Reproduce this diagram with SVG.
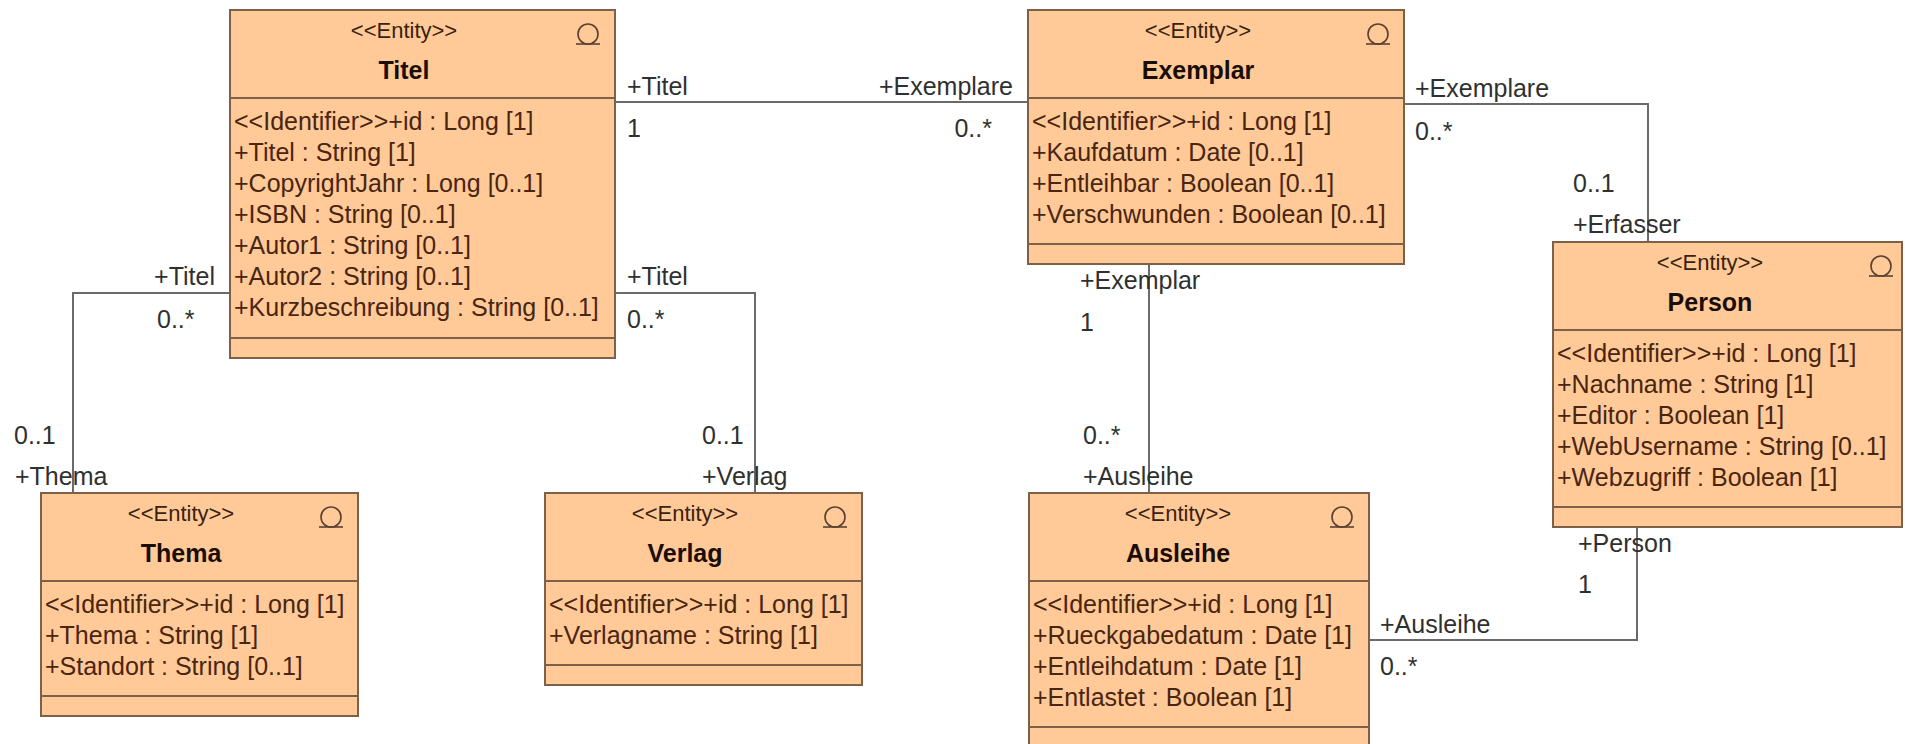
<svg xmlns="http://www.w3.org/2000/svg" width="1905" height="744" viewBox="0 0 1905 744">
<style>
.box{fill:#FFCA98;stroke:#7d6048;stroke-width:2}
.div{stroke:#7d6048;stroke-width:2}
.st{font-family:"Liberation Sans",Arial,sans-serif;font-size:22px;fill:#3a2210;text-anchor:middle}
.nm{font-family:"Liberation Sans",Arial,sans-serif;font-size:25px;font-weight:bold;fill:#1a0d05;text-anchor:middle}
.at{font-family:"Liberation Sans",Arial,sans-serif;font-size:25px;fill:#4a2510}
.ic{fill:none;stroke:#5a4030;stroke-width:1.6}
.cn{fill:none;stroke:#6a6a6a;stroke-width:2}
.lb{font-family:"Liberation Sans",Arial,sans-serif;font-size:25px;fill:#303030}
.end{text-anchor:end}
</style>
<rect width="1905" height="744" fill="#ffffff"/>

<g id="connectors">
<polyline class="cn" points="615,102 1028,102"/>
<polyline class="cn" points="230,293 73,293 73,493"/>
<polyline class="cn" points="615,293 755,293 755,493"/>
<polyline class="cn" points="1404,104 1648,104 1648,242"/>
<polyline class="cn" points="1149,264 1149,493"/>
<polyline class="cn" points="1637,527 1637,640 1369,640"/>
<text class="lb" x="627" y="95">+Titel</text>
<text class="lb" x="627" y="137">1</text>
<text class="lb end" x="1013" y="95">+Exemplare</text>
<text class="lb end" x="992" y="137">0..*</text>
<text class="lb end" x="215" y="285">+Titel</text>
<text class="lb" x="157" y="328">0..*</text>
<text class="lb" x="14" y="444">0..1</text>
<text class="lb" x="15" y="485">+Thema</text>
<text class="lb" x="627" y="285">+Titel</text>
<text class="lb" x="627" y="328">0..*</text>
<text class="lb" x="702" y="444">0..1</text>
<text class="lb" x="702" y="485">+Verlag</text>
<text class="lb" x="1415" y="97">+Exemplare</text>
<text class="lb" x="1415" y="140">0..*</text>
<text class="lb" x="1573" y="192">0..1</text>
<text class="lb" x="1573" y="233">+Erfasser</text>
<text class="lb" x="1080" y="289">+Exemplar</text>
<text class="lb" x="1080" y="331">1</text>
<text class="lb" x="1083" y="444">0..*</text>
<text class="lb" x="1083" y="485">+Ausleihe</text>
<text class="lb" x="1578" y="552">+Person</text>
<text class="lb" x="1578" y="593">1</text>
<text class="lb" x="1380" y="633">+Ausleihe</text>
<text class="lb" x="1380" y="675">0..*</text>
</g>

<g id="Titel">
<rect class="box" x="230" y="10" width="385" height="348"/>
<line class="div" x1="230" y1="98" x2="615" y2="98"/>
<line class="div" x1="230" y1="338" x2="615" y2="338"/>
<circle class="ic" cx="588" cy="34" r="10"/>
<line class="ic" x1="576" y1="44" x2="600" y2="44"/>
<text class="st" x="404" y="38">&lt;&lt;Entity&gt;&gt;</text>
<text class="nm" x="404" y="79">Titel</text>
<text class="at" x="234" y="130">&lt;&lt;Identifier&gt;&gt;+id : Long [1]</text>
<text class="at" x="234" y="161">+Titel : String [1]</text>
<text class="at" x="234" y="192">+CopyrightJahr : Long [0..1]</text>
<text class="at" x="234" y="223">+ISBN : String [0..1]</text>
<text class="at" x="234" y="254">+Autor1 : String [0..1]</text>
<text class="at" x="234" y="285">+Autor2 : String [0..1]</text>
<text class="at" x="234" y="316">+Kurzbeschreibung : String [0..1]</text>
</g>

<g id="Exemplar">
<rect class="box" x="1028" y="10" width="376" height="254"/>
<line class="div" x1="1028" y1="98" x2="1404" y2="98"/>
<line class="div" x1="1028" y1="244" x2="1404" y2="244"/>
<circle class="ic" cx="1378" cy="34" r="10"/>
<line class="ic" x1="1366" y1="44" x2="1390" y2="44"/>
<text class="st" x="1198" y="38">&lt;&lt;Entity&gt;&gt;</text>
<text class="nm" x="1198" y="79">Exemplar</text>
<text class="at" x="1032" y="130">&lt;&lt;Identifier&gt;&gt;+id : Long [1]</text>
<text class="at" x="1032" y="161">+Kaufdatum : Date [0..1]</text>
<text class="at" x="1032" y="192">+Entleihbar : Boolean [0..1]</text>
<text class="at" x="1032" y="223">+Verschwunden : Boolean [0..1]</text>
</g>

<g id="Person">
<rect class="box" x="1553" y="242" width="349" height="285"/>
<line class="div" x1="1553" y1="330" x2="1902" y2="330"/>
<line class="div" x1="1553" y1="507" x2="1902" y2="507"/>
<circle class="ic" cx="1881" cy="266" r="10"/>
<line class="ic" x1="1869" y1="276" x2="1893" y2="276"/>
<text class="st" x="1710" y="270">&lt;&lt;Entity&gt;&gt;</text>
<text class="nm" x="1710" y="311">Person</text>
<text class="at" x="1557" y="362">&lt;&lt;Identifier&gt;&gt;+id : Long [1]</text>
<text class="at" x="1557" y="393">+Nachname : String [1]</text>
<text class="at" x="1557" y="424">+Editor : Boolean [1]</text>
<text class="at" x="1557" y="455">+WebUsername : String [0..1]</text>
<text class="at" x="1557" y="486">+Webzugriff : Boolean [1]</text>
</g>

<g id="Thema">
<rect class="box" x="41" y="493" width="317" height="223"/>
<line class="div" x1="41" y1="581" x2="358" y2="581"/>
<line class="div" x1="41" y1="696" x2="358" y2="696"/>
<circle class="ic" cx="331" cy="517" r="10"/>
<line class="ic" x1="319" y1="527" x2="343" y2="527"/>
<text class="st" x="181" y="521">&lt;&lt;Entity&gt;&gt;</text>
<text class="nm" x="181" y="562">Thema</text>
<text class="at" x="45" y="613">&lt;&lt;Identifier&gt;&gt;+id : Long [1]</text>
<text class="at" x="45" y="644">+Thema : String [1]</text>
<text class="at" x="45" y="675">+Standort : String [0..1]</text>
</g>

<g id="Verlag">
<rect class="box" x="545" y="493" width="317" height="192"/>
<line class="div" x1="545" y1="581" x2="862" y2="581"/>
<line class="div" x1="545" y1="665" x2="862" y2="665"/>
<circle class="ic" cx="835" cy="517" r="10"/>
<line class="ic" x1="823" y1="527" x2="847" y2="527"/>
<text class="st" x="685" y="521">&lt;&lt;Entity&gt;&gt;</text>
<text class="nm" x="685" y="562">Verlag</text>
<text class="at" x="549" y="613">&lt;&lt;Identifier&gt;&gt;+id : Long [1]</text>
<text class="at" x="549" y="644">+Verlagname : String [1]</text>
</g>

<g id="Ausleihe">
<rect class="box" x="1029" y="493" width="340" height="254"/>
<line class="div" x1="1029" y1="581" x2="1369" y2="581"/>
<line class="div" x1="1029" y1="727" x2="1369" y2="727"/>
<circle class="ic" cx="1342" cy="517" r="10"/>
<line class="ic" x1="1330" y1="527" x2="1354" y2="527"/>
<text class="st" x="1178" y="521">&lt;&lt;Entity&gt;&gt;</text>
<text class="nm" x="1178" y="562">Ausleihe</text>
<text class="at" x="1033" y="613">&lt;&lt;Identifier&gt;&gt;+id : Long [1]</text>
<text class="at" x="1033" y="644">+Rueckgabedatum : Date [1]</text>
<text class="at" x="1033" y="675">+Entleihdatum : Date [1]</text>
<text class="at" x="1033" y="706">+Entlastet : Boolean [1]</text>
</g>
</svg>
